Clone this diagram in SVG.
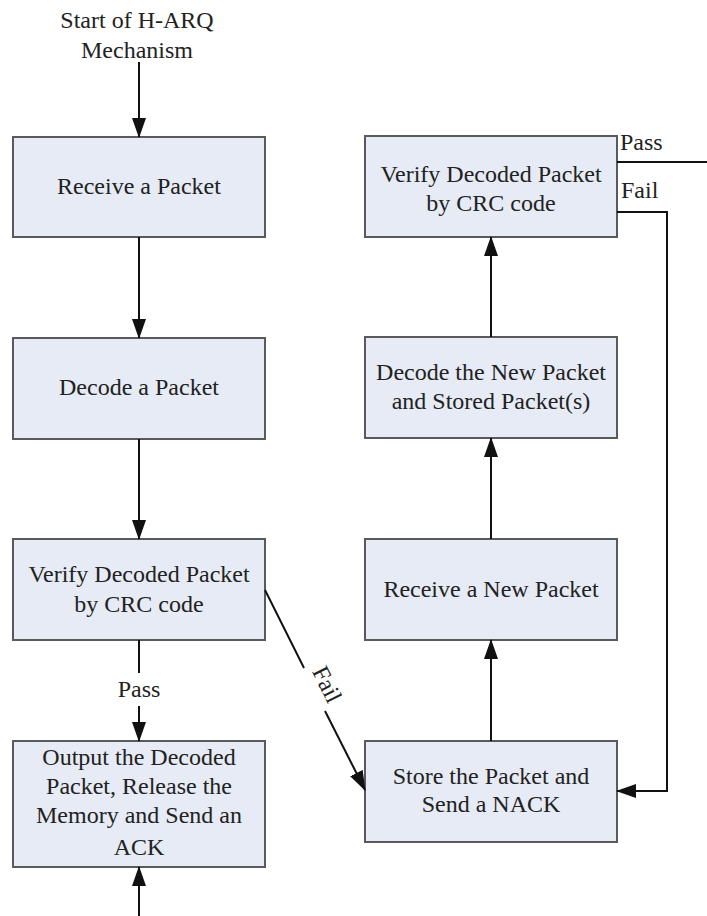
<svg xmlns="http://www.w3.org/2000/svg" width="707" height="916" viewBox="0 0 707 916">
  <style>
    .box { fill: #e6ebf5; stroke: #5a5a5a; stroke-width: 2; }
    .lbl { font-size: 24px; fill: #222; text-anchor: middle; }
    .tag { font-size: 24px; fill: #222; }
    .wire { fill: none; stroke: #111; stroke-width: 2; }
  </style>
  <defs>
    <marker id="arrow" markerUnits="userSpaceOnUse" markerWidth="20" markerHeight="14" viewBox="0 0 20 14" refX="19" refY="7" orient="auto">
      <path d="M0,0 L20,7 L0,14 Z" fill="#111"/>
    </marker>
  </defs>
  <rect width="707" height="916" fill="#ffffff"/>

  <g font-family="Liberation Serif, Tinos, DejaVu Serif, serif">
  <!-- start caption -->
  <g id="start">
    <text class="lbl" x="137" y="28">Start of H-ARQ</text>
    <text class="lbl" x="137" y="58">Mechanism</text>
  </g>

  <!-- left column -->
  <g id="receive">
    <rect class="box" x="13" y="137" width="252" height="100"/>
    <text class="lbl" x="139" y="194">Receive a Packet</text>
  </g>
  <g id="decode">
    <rect class="box" x="13" y="338" width="252" height="101"/>
    <text class="lbl" x="139" y="395">Decode a Packet</text>
  </g>
  <g id="verify1">
    <rect class="box" x="13" y="539" width="252" height="101"/>
    <text class="lbl" x="139" y="582">Verify Decoded Packet</text>
    <text class="lbl" x="139" y="612">by CRC code</text>
  </g>
  <g id="output">
    <rect class="box" x="13" y="741" width="252" height="126"/>
    <text class="lbl" x="139" y="765">Output the Decoded</text>
    <text class="lbl" x="139" y="794">Packet, Release the</text>
    <text class="lbl" x="139" y="823">Memory and Send an</text>
    <text class="lbl" x="139" y="855">ACK</text>
  </g>

  <!-- right column -->
  <g id="verify2">
    <rect class="box" x="365" y="136" width="252" height="101"/>
    <text class="lbl" x="491" y="182">Verify Decoded Packet</text>
    <text class="lbl" x="491" y="211">by CRC code</text>
  </g>
  <g id="decode2">
    <rect class="box" x="365" y="337" width="252" height="101"/>
    <text class="lbl" x="491" y="380">Decode the New Packet</text>
    <text class="lbl" x="491" y="409">and Stored Packet(s)</text>
  </g>
  <g id="receive2">
    <rect class="box" x="365" y="539" width="252" height="101"/>
    <text class="lbl" x="491" y="597">Receive a New Packet</text>
  </g>
  <g id="store">
    <rect class="box" x="365" y="741" width="252" height="101"/>
    <text class="lbl" x="491" y="784">Store the Packet and</text>
    <text class="lbl" x="491" y="812">Send a NACK</text>
  </g>

  <!-- connectors -->
  <g id="connectors">
    <line class="wire" x1="139" y1="62" x2="139" y2="137" marker-end="url(#arrow)"/>
    <line class="wire" x1="139" y1="237" x2="139" y2="338" marker-end="url(#arrow)"/>
    <line class="wire" x1="139" y1="439" x2="139" y2="539" marker-end="url(#arrow)"/>

    <!-- pass branch, left -->
    <line class="wire" x1="139" y1="640" x2="139" y2="673"/>
    <text class="lbl" x="139" y="697">Pass</text>
    <line class="wire" x1="139" y1="706" x2="139" y2="741" marker-end="url(#arrow)"/>

    <!-- fail branch, diagonal -->
    <line class="wire" x1="265" y1="590" x2="304" y2="668"/>
    <line class="wire" x1="325" y1="711" x2="365" y2="790" marker-end="url(#arrow)"/>
    <text class="tag" x="0" y="0" text-anchor="middle" transform="translate(320,688) rotate(63.4)">Fail</text>

    <!-- acknowledgement return from below -->
    <line class="wire" x1="139" y1="916" x2="139" y2="867" marker-end="url(#arrow)"/>

    <!-- right column, upward -->
    <line class="wire" x1="491" y1="741" x2="491" y2="640" marker-end="url(#arrow)"/>
    <line class="wire" x1="491" y1="539" x2="491" y2="438" marker-end="url(#arrow)"/>
    <line class="wire" x1="491" y1="337" x2="491" y2="237" marker-end="url(#arrow)"/>

    <!-- second check outcomes -->
    <line class="wire" x1="617" y1="162" x2="707" y2="162"/>
    <text class="tag" x="620" y="150">Pass</text>
    <polyline class="wire" points="617,212 667,212 667,791 617,791" marker-end="url(#arrow)"/>
    <text class="tag" x="621" y="198">Fail</text>
  </g>
  </g>
</svg>
